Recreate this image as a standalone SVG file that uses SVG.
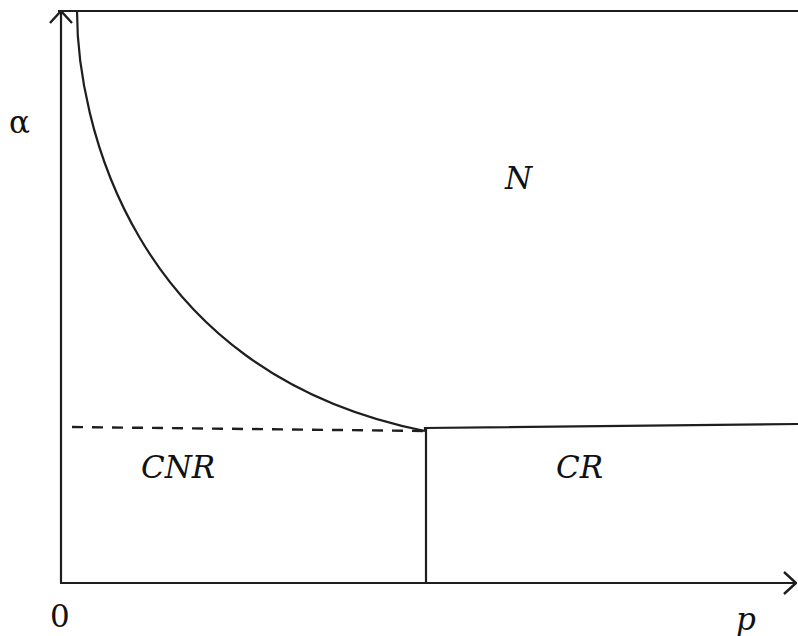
<svg xmlns="http://www.w3.org/2000/svg" width="798" height="636" viewBox="0 0 798 636">
<style>
.ln{fill:none;stroke:#1e1e1e;stroke-width:2.2;stroke-linecap:butt}
.dash{fill:none;stroke:#1e1e1e;stroke-width:2.4;stroke-dasharray:11 9}
.lbl{font-family:"DejaVu Serif",serif;font-size:31px;fill:#111}
.it{font-style:italic}
</style>
<defs>
<marker id="arr" viewBox="0 0 14 24" refX="13" refY="12" markerWidth="14" markerHeight="24" markerUnits="userSpaceOnUse" orient="auto">
<polyline points="1,1 13,12 1,23" fill="none" stroke="#1e1e1e" stroke-width="2.4"/>
</marker>
</defs>
<rect width="798" height="636" fill="#fff"/>
<g id="connectors">
<line class="ln" x1="61" y1="583" x2="61" y2="11" marker-end="url(#arr)"/>
<line class="ln" x1="60" y1="583" x2="796" y2="583" marker-end="url(#arr)"/>
<line class="ln" x1="58" y1="11" x2="798" y2="11"/>
<path class="ln" d="M77,11 C77,116 129,372 425,431"/>
<line class="dash" x1="72" y1="427" x2="425" y2="431"/>
<polyline class="ln" points="425,431 425,428 798,424"/>
<line class="ln" x1="426" y1="428" x2="426" y2="583"/>
</g>
<g id="axis-labels">
<text class="lbl" x="9" y="133" font-size="33">α</text>
<text class="lbl" x="50" y="627">0</text>
<text class="lbl it" x="736" y="630">p</text>
</g>
<g id="region-N"><text class="lbl it" x="505" y="189">N</text></g>
<g id="region-CNR"><text class="lbl it" x="141" y="478">CNR</text></g>
<g id="region-CR"><text class="lbl it" x="556" y="478">CR</text></g>
</svg>
